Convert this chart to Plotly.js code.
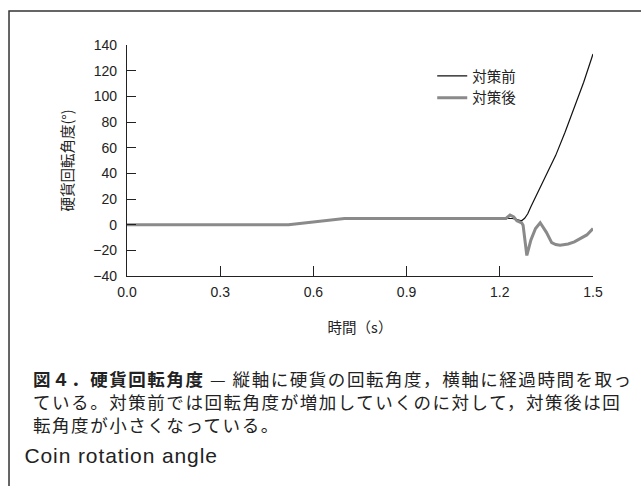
<!DOCTYPE html>
<html>
<head>
<meta charset="utf-8">
<script src="https://cdn.plot.ly/plotly-3.0.1.min.js"></script>
<style>
html,body{margin:0;padding:0;background:#fff;}
g.annotation[data-index="0"] text{letter-spacing:1.55px;}
g.annotation[data-index="1"] text{letter-spacing:0.9px;}
</style>
</head>
<body>
<div id="chart" style="width:641px;height:486px;"></div>
<script>
// 対策前 (before countermeasure)
const tBefore = [0, 0.52, 0.70, 1.24, 1.255, 1.27, 1.28, 1.29, 1.30, 1.32, 1.35, 1.38, 1.41, 1.44, 1.47, 1.5];
const yBefore = [0, 0, 4.8, 4.8, 4, 3, 5, 8.5, 14, 24, 38, 54, 72, 91, 111, 133];
// 対策後 (after countermeasure)
const tAfter = [0, 0.52, 0.70, 1.22, 1.233, 1.245, 1.255, 1.27, 1.275, 1.282, 1.287, 1.30, 1.315, 1.33, 1.35, 1.367, 1.38, 1.394, 1.42, 1.44, 1.46, 1.48, 1.5];
const yAfter = [0, 0, 4.8, 4.8, 7.5, 6, 3, 1.5, -0.5, -14, -24, -12, -3, 1.5, -6, -14, -15.5, -16, -15, -13.4, -11, -8, -3];

const seriesNames = ['対策前', '対策後'];
const xTickVals = [0, 0.3, 0.6, 0.9, 1.2, 1.5];
const xTickText = ['0.0', '0.3', '0.6', '0.9', '1.2', '1.5'];
const yTickVals = [-40, -20, 0, 20, 40, 60, 80, 100, 120, 140];

const captionLines = [
  '<b>図４．硬貨回転角度</b> — 縦軸に硬貨の回転角度，横軸に経過時間を取っ',
  'ている。対策前では回転角度が増加していくのに対して，対策後は回',
  '転角度が小さくなっている。'
];
const captionEn = 'Coin rotation angle';

const FONT = 'Liberation Sans, Arial, Noto Sans CJK JP, sans-serif';
const JFONT = 'Noto Sans CJK JP, sans-serif';

const traces = [
  {x: tBefore, y: yBefore, name: seriesNames[0], type: 'scatter', mode: 'lines',
   line: {color: '#111111', width: 1.2}},
  {x: tAfter, y: yAfter, name: seriesNames[1], type: 'scatter', mode: 'lines',
   line: {color: '#8a8a8a', width: 3}}
];

const annotations = [
  {text: captionLines.join('<br>'), xref: 'paper', yref: 'paper', x: -0.206, y: -0.381,
   xanchor: 'left', yanchor: 'top', align: 'left', showarrow: false,
   font: {family: JFONT, size: 17.5, color: '#222'}},
  {text: captionEn, xref: 'paper', yref: 'paper', x: -0.206, y: -0.779,
   xanchor: 'left', yanchor: 'middle', showarrow: false,
   font: {family: FONT, size: 21, color: '#222'}}
];

const layout = {
  width: 641, height: 486,
  margin: {l: 127, r: 48, t: 45, b: 210},
  paper_bgcolor: '#fff', plot_bgcolor: '#fff',
  font: {family: FONT, size: 14, color: '#222'},
  showlegend: true,
  legend: {x: 0.655, y: 0.935, xanchor: 'left', yanchor: 'top',
           bgcolor: 'rgba(0,0,0,0)', font: {family: JFONT, size: 14.5, color: '#222'},
           itemwidth: 30, tracegroupgap: 0},
  xaxis: {range: [0, 1.5], tickvals: xTickVals, ticktext: xTickText,
          ticks: 'inside', ticklen: 10, tickcolor: '#222', tickwidth: 1,
          showline: true, linecolor: '#222', linewidth: 1.2,
          showgrid: false, zeroline: false, ticklabelstandoff: 3,
          tickfont: {family: FONT, size: 14, color: '#222'},
          title: {text: '時間（s）', font: {family: JFONT, size: 14.5, color: '#222'}, standoff: 23},
          automargin: false, fixedrange: true},
  yaxis: {range: [-40, 140], tickvals: yTickVals,
          ticks: 'inside', ticklen: 9, tickcolor: '#222', tickwidth: 1,
          showline: true, linecolor: '#222', linewidth: 1.2,
          showgrid: false, zeroline: false, ticklabelstandoff: 6,
          tickfont: {family: FONT, size: 14, color: '#222'},
          title: {text: '硬貨回転角度(°)', font: {family: JFONT, size: 14.5, color: '#222'}, standoff: 16},
          automargin: false, fixedrange: true},
  shapes: [{type: 'rect', xref: 'paper', yref: 'paper',
            x0: -0.2532, x1: 1.5, y0: -1.5, y1: 1.147,
            line: {color: '#333', width: 1.5}, fillcolor: 'rgba(0,0,0,0)', layer: 'below'}],
  annotations: annotations
};

Plotly.newPlot('chart', traces, layout, {displayModeBar: false, staticPlot: true});
</script>
</body>
</html>
